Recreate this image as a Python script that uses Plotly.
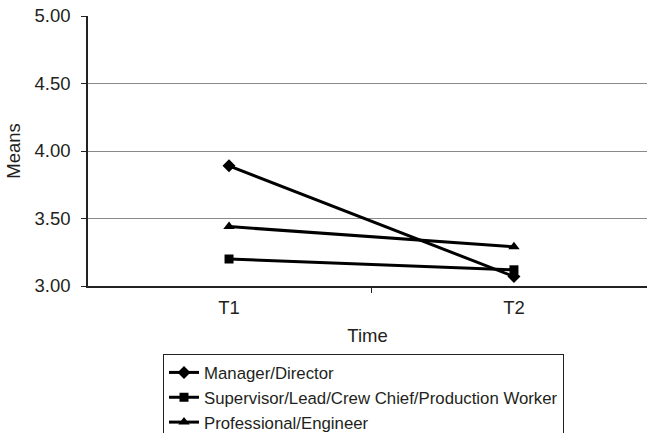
import plotly.graph_objects as go

times = ["T1", "T2"]
series_names = ["Manager/Director", "Supervisor/Lead/Crew Chief/Production Worker", "Professional/Engineer"]
manager = [3.89, 3.07]
supervisor = [3.20, 3.12]
professional = [3.44, 3.29]
y_ticks = [3.0, 3.5, 4.0, 4.5, 5.0]

FONT = "Liberation Sans, Arial, sans-serif"
INK = "#231f20"
FS = 18.5

fig = go.Figure()
for name, vals, sym, sz in zip(series_names, [manager, supervisor, professional],
                               ["diamond", "square", "triangle-up"], [10, 9, 10]):
    fig.add_trace(go.Scatter(
        x=times, y=vals, name=name, mode="lines+markers",
        line=dict(color="black", width=3),
        marker=dict(symbol=sym, color="black", size=sz),
    ))

L, T, B = 88, 16, 147
PW = 647 - L

fig.update_layout(
    width=647, height=433,
    margin=dict(l=L, r=0, t=T, b=B, autoexpand=False),
    paper_bgcolor="white", plot_bgcolor="white",
    font=dict(family=FONT, color=INK, size=FS),
    showlegend=True,
    legend=dict(
        xref="paper", yref="container",
        x=(163 - L) / PW, y=(433 - 354) / 433, xanchor="left", yanchor="top",
        bordercolor="#222", borderwidth=1, bgcolor="white",
        font=dict(size=16.8, color=INK), tracegroupgap=0,
    ),
    xaxis=dict(
        type="category", range=[-0.495, 1.467],
        tickson="boundaries", ticks="outside", ticklen=5, tickcolor="#222",
        showline=True, linecolor="#222", linewidth=1.5,
        showgrid=False, tickfont=dict(size=FS), ticklabelstandoff=4,
        title=dict(text="Time", font=dict(size=FS), standoff=12),
    ),
    yaxis=dict(
        range=[3, 5], tickvals=y_ticks, tickformat=".2f",
        ticks="outside", ticklen=5, tickcolor="#222",
        showline=True, linecolor="#222", linewidth=1.5,
        showgrid=True, gridcolor="#8a8a8a", gridwidth=1,
        zeroline=False, tickfont=dict(size=FS), ticklabelstandoff=7,
        title=dict(text="Means", font=dict(size=FS), standoff=9),
    ),
)

fig.write_html("out.html")
